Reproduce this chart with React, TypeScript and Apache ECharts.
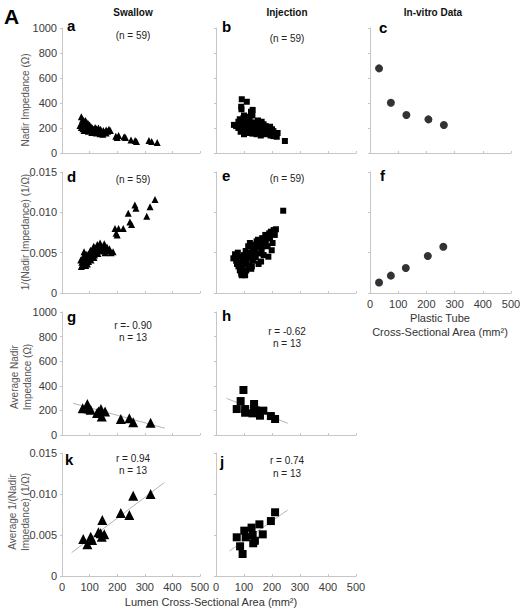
import React, { useEffect, useRef } from "react";
import * as echarts from "echarts";

// ---------- data ----------
const xTickValues = [0, 100, 200, 300, 400, 500];
const impedanceTicks = [0, 200, 400, 600, 800, 1000];
const inverseTicks = [0, 0.005, 0.01, 0.015];

const columnTitles = ["Swallow", "Injection", "In-vitro Data"];

// a: swallow nadir impedance vs lumen area
const swallowNadir: [number, number][] = [
  [70, 290], [75, 270], [80, 255], [72, 240], [78, 230], [85, 260], [90, 245], [95, 235], [88, 220], [65, 220],
  [70, 205], [76, 195], [82, 210], [92, 215], [100, 225], [105, 210], [110, 200], [98, 195], [88, 185], [80, 180],
  [95, 175], [105, 185], [115, 190], [120, 205], [125, 195], [130, 180], [118, 170], [108, 165], [125, 160], [135, 175],
  [140, 190], [145, 170], [138, 155], [150, 180], [155, 165], [160, 185], [148, 150], [165, 175], [170, 190], [112, 175],
  [128, 185], [100, 200], [86, 200], [74, 215], [92, 195], [132, 200], [160, 160], [175, 180],
  [195, 135], [200, 125], [205, 140], [225, 130], [230, 125], [250, 105], [265, 100], [270, 92], [315, 100], [325, 92], [345, 85],
];
// b: injection nadir impedance
const injectionNadir: [number, number][] = [
  [92, 430], [110, 410], [90, 370], [91, 350], [131, 345], [125, 330], [100, 300], [98, 280], [85, 270], [115, 290],
  [130, 300], [120, 265], [108, 255], [95, 245], [80, 250], [64, 225], [72, 215], [80, 200], [90, 215], [100, 225],
  [112, 235], [125, 240], [140, 245], [150, 260], [163, 250], [135, 220], [120, 210], [105, 200], [95, 185], [88, 170],
  [110, 180], [125, 190], [140, 200], [150, 215], [160, 225], [170, 230], [178, 215], [165, 195], [150, 180], [135, 170],
  [118, 160], [100, 150], [145, 150], [160, 165], [175, 180], [185, 200], [193, 210], [200, 190], [205, 175], [190, 160],
  [175, 150], [160, 140], [195, 140], [210, 150], [217, 130], [205, 135], [220, 160], [130, 155], [246, 96],
];
// c: in-vitro plastic tube impedance
const tubeNadir: [number, number][] = [[32, 677], [74, 402], [129, 304], [207, 269], [262, 224]];

// d: swallow 1/nadir
const swallowInverse: [number, number][] = [
  [70, 0.0033], [72, 0.0038], [75, 0.0042], [78, 0.0046], [80, 0.0051], [68, 0.0041], [74, 0.0035], [82, 0.0037], [85, 0.004], [88, 0.0044],
  [90, 0.0048], [92, 0.0036], [95, 0.0042], [98, 0.0046], [100, 0.005], [103, 0.0053], [105, 0.0041], [108, 0.0045], [110, 0.0049], [112, 0.0055],
  [115, 0.0058], [118, 0.0047], [120, 0.0051], [122, 0.0054], [125, 0.0057], [128, 0.006], [130, 0.0049], [133, 0.0053], [136, 0.0056], [138, 0.0062],
  [140, 0.0059], [143, 0.0052], [146, 0.0055], [150, 0.0058], [153, 0.0061], [156, 0.005], [160, 0.0054], [163, 0.0057], [167, 0.0052], [172, 0.0055],
  [178, 0.005], [185, 0.0051], [96, 0.0039], [86, 0.0034], [116, 0.0044], [126, 0.0049],
  [192, 0.008], [196, 0.0074], [200, 0.0072], [205, 0.008], [222, 0.008], [240, 0.0099], [246, 0.0088], [252, 0.0085], [264, 0.0109],
  [268, 0.0105], [307, 0.0095], [319, 0.0107], [337, 0.0116],
];
// e: injection 1/nadir
const injectionInverse: [number, number][] = [
  [62, 0.0043], [68, 0.0048], [72, 0.004], [75, 0.0036], [78, 0.005], [80, 0.0033], [82, 0.0045], [85, 0.0028], [88, 0.0038], [90, 0.0024],
  [92, 0.0022], [95, 0.0031], [98, 0.0042], [100, 0.0047], [102, 0.0036], [104, 0.0022], [106, 0.0052], [108, 0.0028], [110, 0.004], [112, 0.0044],
  [115, 0.0058], [118, 0.0034], [120, 0.005], [121, 0.0062], [124, 0.0046], [126, 0.003], [128, 0.0033], [130, 0.0055], [132, 0.004], [135, 0.0048],
  [138, 0.006], [140, 0.0052], [142, 0.0044], [145, 0.0064], [148, 0.0057], [150, 0.0066], [152, 0.0036], [155, 0.0049], [158, 0.0062], [161, 0.0039],
  [163, 0.0054], [165, 0.0068], [168, 0.0058], [170, 0.0047], [173, 0.0063], [176, 0.0072], [178, 0.0065], [181, 0.007], [184, 0.0058], [187, 0.0045],
  [190, 0.0074], [193, 0.0068], [196, 0.0076], [199, 0.0053], [202, 0.0062], [206, 0.0078], [210, 0.0072], [214, 0.0079], [240, 0.0102],
];
// f: in-vitro 1/impedance
const tubeInverse: [number, number][] = [[32, 0.0013], [74, 0.00215], [127, 0.0031], [205, 0.00458], [260, 0.00574]];

// g: swallow average nadir (per subject)
const swallowAvgNadir: [number, number][] = [
  [75, 217], [92, 252], [96, 215], [104, 205], [127, 178], [132, 192], [141, 212], [144, 150], [156, 192], [213, 130], [244, 136], [258, 103], [321, 100],
];
const swallowAvgNadirFit: [number, number][] = [[40, 258], [373, 55]];
// h: injection average nadir
const injectionAvgNadir: [number, number][] = [
  [98, 366], [88, 276], [74, 211], [104, 211], [104, 181], [136, 252], [136, 216], [130, 176], [143, 200], [169, 198], [157, 157], [196, 154], [211, 130],
];
const injectionAvgNadirFit: [number, number][] = [[38, 298], [256, 95]];
// k: swallow average 1/nadir
const swallowAvgInverse: [number, number][] = [
  [77, 0.00451], [92, 0.00386], [104, 0.00479], [109, 0.00439], [132, 0.00533], [146, 0.00683], [144, 0.00479], [153, 0.00508], [140, 0.0052],
  [213, 0.00768], [244, 0.00744], [258, 0.0098], [321, 0.01],
];
const swallowAvgInverseFit: [number, number][] = [[35, 0.00285], [371, 0.0114]];
// j: injection average 1/nadir
const injectionAvgInverse: [number, number][] = [
  [211, 0.00777], [196, 0.0067], [155, 0.0063], [127, 0.0059], [101, 0.00553], [74, 0.00472], [106, 0.00472], [131, 0.005], [167, 0.00508],
  [139, 0.0043], [133, 0.00399], [86, 0.00362], [95, 0.00268],
];
const injectionAvgInverseFit: [number, number][] = [[48, 0.00305], [256, 0.00805]];

// ---------- styling ----------
const FONT = "'Liberation Sans', Arial, Helvetica, sans-serif";
const AXIS_COLOR = "#c6c6c6";
const LABEL_COLOR = "#3a3a3a";

type Panel = {
  letter: string;
  letterX: number;
  letterY: number;
  left: number;
  top: number;
  width: number;
  height: number;
  yTicks: number[];
  showY: boolean;
  showX: boolean;
  data: [number, number][];
  symbol: string;
  size: number;
  color: string;
  fit?: [number, number][];
};

const colLeft = [62, 216, 370];
const colWidth = [138, 140, 141];
const rowTop = [28, 172, 312, 453];
const rowHeight = [125, 121, 123, 123];

const panels: Panel[] = [
  { letter: "a", letterX: 67, letterY: 25, left: colLeft[0], top: rowTop[0], width: colWidth[0], height: rowHeight[0], yTicks: impedanceTicks, showY: true, showX: false, data: swallowNadir, symbol: "triangle", size: 7, color: "#000" },
  { letter: "b", letterX: 222, letterY: 26, left: colLeft[1], top: rowTop[0], width: colWidth[1], height: rowHeight[0], yTicks: impedanceTicks, showY: false, showX: false, data: injectionNadir, symbol: "rect", size: 6, color: "#000" },
  { letter: "c", letterX: 379, letterY: 27, left: colLeft[2], top: rowTop[0], width: colWidth[2], height: rowHeight[0], yTicks: impedanceTicks, showY: false, showX: false, data: tubeNadir, symbol: "circle", size: 8, color: "#333" },
  { letter: "d", letterX: 67, letterY: 176, left: colLeft[0], top: rowTop[1], width: colWidth[0], height: rowHeight[1], yTicks: inverseTicks, showY: true, showX: false, data: swallowInverse, symbol: "triangle", size: 7, color: "#000" },
  { letter: "e", letterX: 222, letterY: 175, left: colLeft[1], top: rowTop[1], width: colWidth[1], height: rowHeight[1], yTicks: inverseTicks, showY: false, showX: false, data: injectionInverse, symbol: "rect", size: 6, color: "#000" },
  { letter: "f", letterX: 380, letterY: 175, left: colLeft[2], top: rowTop[1], width: colWidth[2], height: rowHeight[1], yTicks: inverseTicks, showY: false, showX: true, data: tubeInverse, symbol: "circle", size: 8, color: "#333" },
  { letter: "g", letterX: 67, letterY: 316, left: colLeft[0], top: rowTop[2], width: colWidth[0], height: rowHeight[2], yTicks: impedanceTicks, showY: true, showX: false, data: swallowAvgNadir, symbol: "triangle", size: 10, color: "#000", fit: swallowAvgNadirFit },
  { letter: "h", letterX: 222, letterY: 315, left: colLeft[1], top: rowTop[2], width: colWidth[1], height: rowHeight[2], yTicks: impedanceTicks, showY: false, showX: false, data: injectionAvgNadir, symbol: "rect", size: 8, color: "#000", fit: injectionAvgNadirFit },
  { letter: "k", letterX: 65, letterY: 459, left: colLeft[0], top: rowTop[3], width: colWidth[0], height: rowHeight[3], yTicks: inverseTicks, showY: true, showX: true, data: swallowAvgInverse, symbol: "triangle", size: 10, color: "#000", fit: swallowAvgInverseFit },
  { letter: "j", letterX: 220, letterY: 461, left: colLeft[1], top: rowTop[3], width: colWidth[1], height: rowHeight[3], yTicks: inverseTicks, showY: false, showX: true, data: injectionAvgInverse, symbol: "rect", size: 8, color: "#000", fit: injectionAvgInverseFit },
];

function yFormat(v: number): string {
  if (v === 0) return "0";
  if (v < 1) return v.toFixed(3);
  return String(v);
}

function txt(text: string, x: number, y: number, font: string, align = "center", fill = "#111", rotation = 0) {
  return {
    type: "text",
    x,
    y,
    rotation,
    silent: true,
    style: { text, font, fill, textAlign: align, textVerticalAlign: "middle" },
  };
}

function buildOption() {
  const grid: any[] = [];
  const xAxis: any[] = [];
  const yAxis: any[] = [];
  const series: any[] = [];

  panels.forEach((p, i) => {
    grid.push({ left: p.left, top: p.top, width: p.width, height: p.height, containLabel: false });
    xAxis.push({
      gridIndex: i,
      type: "value",
      min: xTickValues[0],
      max: xTickValues[xTickValues.length - 1],
      interval: xTickValues[1] - xTickValues[0],
      axisLine: { show: true, onZero: false, lineStyle: { color: AXIS_COLOR, width: 1 } },
      axisTick: { show: true, inside: true, length: 2, lineStyle: { color: AXIS_COLOR } },
      axisLabel: { show: p.showX, color: LABEL_COLOR, fontSize: 11, fontFamily: FONT, margin: 5 },
      splitLine: { show: false },
    });
    yAxis.push({
      gridIndex: i,
      type: "value",
      min: p.yTicks[0],
      max: p.yTicks[p.yTicks.length - 1],
      interval: p.yTicks[1] - p.yTicks[0],
      axisLine: { show: true, onZero: false, lineStyle: { color: AXIS_COLOR, width: 1 } },
      axisTick: { show: true, inside: false, length: 2, lineStyle: { color: AXIS_COLOR } },
      axisLabel: { show: p.showY, color: LABEL_COLOR, fontSize: 11, fontFamily: FONT, margin: 5, formatter: yFormat },
      splitLine: { show: false },
    });
    if (p.fit) {
      series.push({
        type: "line",
        xAxisIndex: i,
        yAxisIndex: i,
        data: p.fit,
        showSymbol: false,
        symbol: "none",
        lineStyle: { color: "#b5b5b5", width: 1 },
        z: 1,
        silent: true,
      });
    }
    series.push({
      type: "scatter",
      xAxisIndex: i,
      yAxisIndex: i,
      data: p.data,
      symbol: p.symbol,
      symbolSize: p.size,
      itemStyle: { color: p.color, opacity: 1 },
      z: 2,
    });
  });

  const headFont = `bold 10px ${FONT}`;
  const letterFont = `bold 15px ${FONT}`;
  const noteFont = `10px ${FONT}`;
  const axisNameFont = `10px ${FONT}`;

  const graphic: any[] = [
    txt("A", 4, 16, `bold 21px ${FONT}`, "left", "#000"),
    txt(columnTitles[0], 133, 12, headFont),
    txt(columnTitles[1], 287, 12, headFont),
    txt(columnTitles[2], 433, 12, headFont),
    ...panels.map((p) => txt(p.letter, p.letterX, p.letterY, letterFont, "left", "#000")),
    txt("(n = 59)", 133, 35, noteFont, "center", "#222"),
    txt("(n = 59)", 287, 38, noteFont, "center", "#222"),
    txt("(n = 59)", 133, 179, noteFont, "center", "#222"),
    txt("(n = 59)", 287, 178, noteFont, "center", "#222"),
    txt("r =- 0.90", 133, 325, noteFont, "center", "#222"),
    txt("n = 13", 133, 337, noteFont, "center", "#222"),
    txt("r = -0.62", 287, 331, noteFont, "center", "#222"),
    txt("n = 13", 287, 343, noteFont, "center", "#222"),
    txt("r = 0.94", 133, 458, noteFont, "center", "#222"),
    txt("n = 13", 133, 470, noteFont, "center", "#222"),
    txt("r = 0.74", 287, 460, noteFont, "center", "#222"),
    txt("n = 13", 287, 473, noteFont, "center", "#222"),
    // y-axis names
    txt("Nadir Impedance (Ω)", 25, 100, axisNameFont, "center", "#555", Math.PI / 2),
    txt("1/(Nadir Impedance) (1/Ω)", 25, 232, axisNameFont, "center", "#555", Math.PI / 2),
    txt("Average Nadir", 14, 377, axisNameFont, "center", "#555", Math.PI / 2),
    txt("Impedance (Ω)", 27, 377, axisNameFont, "center", "#555", Math.PI / 2),
    txt("Average 1/(Nadir", 12, 512, axisNameFont, "center", "#555", Math.PI / 2),
    txt("Impedance) (1/Ω)", 25, 512, axisNameFont, "center", "#555", Math.PI / 2),
    // x-axis names
    txt("Lumen Cross-Sectional Area (mm²)", 211, 602, `11px ${FONT}`, "center", "#333"),
    txt("Plastic Tube", 440, 318, `11px ${FONT}`, "center", "#333"),
    txt("Cross-Sectional Area (mm²)", 440, 332, `11px ${FONT}`, "center", "#333"),
  ];

  return {
    animation: false,
    backgroundColor: "#ffffff",
    grid,
    xAxis,
    yAxis,
    series,
    graphic,
  };
}

export default function App() {
  const ref = useRef<HTMLDivElement>(null);
  useEffect(() => {
    if (!ref.current) return;
    const chart = echarts.init(ref.current, undefined, { renderer: "svg" });
    chart.setOption(buildOption() as any);
    return () => chart.dispose();
  }, []);
  return (
    <div
      ref={ref}
      style={{ position: "absolute", left: 0, top: 0, width: 525, height: 615, background: "#fff" }}
    />
  );
}
